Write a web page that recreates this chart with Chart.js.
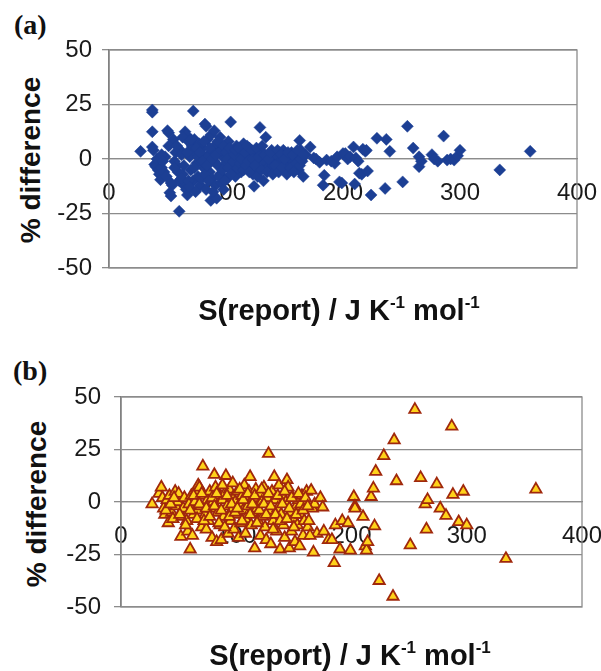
<!DOCTYPE html>
<html>
<head>
    <title>% difference vs S(report)</title>
    <script src="https://cdn.jsdelivr.net/npm/chart.js"></script>
    <style>
        body { margin: 0; background: #fff; }
        #page { position: relative; width: 601px; height: 671px; overflow: hidden; font-family: "Liberation Sans", Arial, sans-serif; }
        canvas { position: absolute; left: 0; }
        .lbl { position: absolute; font-family: "Liberation Serif", "Times New Roman", serif; font-weight: bold; font-size: 28px; color: #111; }
        .ytitle { position: absolute; font-weight: bold; font-size: 28px; color: #111; white-space: nowrap;
                  transform: translate(-50%, -50%) rotate(-90deg); }
        .xtitle { position: absolute; font-weight: bold; font-size: 29px; color: #111; white-space: nowrap;
                  transform: translate(-50%, -50%); }
        .xtitle sup { font-size: 17px; vertical-align: 12px; line-height: 0; }
    </style>
</head>
<body>
<div id="page">
    <div class="lbl" style="left:14px; top:9px;">(a)</div>
    <div class="ytitle" style="left:31px; top:160px;">% difference</div>
    <canvas id="chartA" width="601" height="335" style="top:0;"></canvas>
    <div class="xtitle" style="left:339px; top:310px;">S(report) / J K<sup>-1</sup> mol<sup>-1</sup></div>

    <div class="lbl" style="left:13px; top:355px;">(b)</div>
    <div class="ytitle" style="left:37px; top:504px;">% difference</div>
    <canvas id="chartB" width="601" height="336" style="top:335px;"></canvas>
    <div class="xtitle" style="left:350px; top:655px;">S(report) / J K<sup>-1</sup> mol<sup>-1</sup></div>
</div>

<script>

/* DATA: [S(report), % difference] */
const xTicks = [0, 100, 200, 300, 400];
const yTicks = [-50, -25, 0, 25, 50];

const pointsA = [
    [27,3.5],[37,22.5],[37,21.5],[37,12.5],[37,5.5],[38,4],[39,-2.5],[40,-3.5],[41,0],[42,-5],
    [43,-7],[44,-9.5],[45,-4],[47,-6],[48,1],[50,13],[51,12],[52,-15.5],[53,-17],[54,-12],
    [55,9],[56,-1],[57,3],[58,-3],[59,-6],[60,-24],[60,-10],[61,4],[62,2],[63,-7],
    [64,-12],[65,12.5],[66,11],[66,-14],[67,-16.5],[68,8],[69,1],[70,-5],[71,6],[72,22],
    [72,-10],[73,9],[74,3],[75,-2],[76,-8],[77,7],[78,-12],[79,0],[80,5],[81,-4],
    [82,16],[83,15],[83,-14],[84,9],[85,2],[86,-6],[87,-19],[87,11],[88,-9],[89,4],
    [90,-1],[90,13],[91,-12],[92,7],[92,-18],[93,-3],[94,3],[95,-7],[95,10],[96,-11],
    [97,1],[98,-14],[99,5],[100,-2],[101,-9],[102,8],[103,0],[104,17],[105,-5],[106,3],
    [107,-3],[108,-8],[109,6],[110,1],[111,-1],[112,4],[113,-6],[114,2],[115,7],[116,-2],
    [117,0],[118,-4],[119,3],[120,5],[121,-3],[122,1],[123,-7],[124,-12.5],[125,2],[126,-1],
    [127,4],[128,-5],[129,14.5],[130,0],[131,3],[132,-10],[133,-2],[134,10],[135,1],[136,-4],
    [137,2],[138,-1],[139,4],[140,-3],[141,0],[142,2],[143,-5],[144,1],[145,-2],[146,3],
    [147,-1],[148,0],[149,4],[150,-3],[151,1],[152,-2],[153,2],[154,-4],[155,0],[156,3],
    [157,-1],[158,1],[159,-3],[160,2],[161,0],[162,-5],[163,8.5],[164,4],[165,-1],[166,-8],
    [168,2],[172,5.5],[175,0.5],[177,0],[180,-1.5],[183,-12],[184,-7.5],[186,-0.5],[190,-1],[193,-2],
    [195,1],[197,-10.5],[199,-11],[200,2.5],[202,2.5],[204,0],[206,1],[209,5.5],[210,-11.5],[211,0.5],
    [213,-1],[214,-6.5],[216,-7],[217,4.5],[219,3.5],[220,4],[221,-5.5],[224,-16.5],[229,9.5],[236,-13.5],
    [237,9],[240,3.5],[251,-10.5],[255,15],[260,5],[265,1],[265,-3.5],[267,-1],[276,2],[278,0],
    [281,-1],[286,10.5],[289,-0.5],[292,0],[295,-0.5],[298,1.5],[300,4],[334,-5],[360,3.5],
    [45,2],[46,-1],[49,-8],[51,6],[53,-11],[56,-4],[58,6],[62,-9],[63,10],[64,-3],
    [67,3],[68,-10],[69,-13],[70,9],[73,-4],[74,-15],[75,5],[76,1],[78,3],[79,-9],
    [80,-1],[81,8],[82,-7],[84,-3],[85,-10],[86,5],[88,0],[89,-15],[91,2],[93,8],
    [94,-8],[96,4],[97,-5],[98,6],[99,-10],[100,3],[101,0],[102,-4],[103,5],[104,-7],
    [106,-1],[107,2],[108,4],[110,-4],[111,5],[112,-2],[113,0],[115,-5],[116,3],[117,-3],
    [118,6],[119,-1],[120,-6],[122,4],[123,0],[125,-3],[126,5],[127,-8],[128,1],[130,-5],
    [131,6],[133,2],[135,-6],[136,0],[138,3],[140,-7],[142,-3],[144,4],[145,-6],[147,2],
    [148,-4],[150,0],[152,-7],[153,3],[155,-4],[157,2],[158,-6],[160,-2],[161,4],[163,-3],
    [164,0],[166,2]
];

const pointsB = [
    [27,-1],[33,4],[35,7],[36,2],[37,-3],[38,-6],[40,1],[41,-10],[42,3],[44,-5],
    [45,-8],[47,5],[48,-2],[49,0],[50,4],[52,-16.5],[53,-7],[54,-3],[55,2],[57,-9],
    [58,-14],[59,-1],[60,-22.5],[61,3],[62,-16],[63,-6],[64,0],[65,5],[66,-4],[67,8],
    [68,7],[69,-2],[70,-12],[71,17],[72,3],[73,-6],[74,-13],[75,1],[76,-9],[77,5],
    [78,-3],[79,-17],[80,0],[81,13],[82,7],[83,-19],[84,-5],[85,3],[86,-11],[87,-18],
    [88,1],[89,-7],[90,4],[91,12.5],[92,-2],[93,-15],[94,6],[95,-9],[96,-4],[97,2],
    [98,-13],[99,0],[100,-6],[101,5],[102,-17],[103,-1],[104,-10],[105,3],[106,-4],[107,8],
    [108,-8],[109,1],[110,-2],[111,5],[112,12],[113,-11],[114,-5],[115,2],[116,-22],[117,6],
    [118,-3],[119,-9],[120,4],[121,-16],[122,0],[123,-7],[124,7],[125,-12],[126,-18],[127,2],
    [128,23],[129,-4],[130,-20],[131,5],[132,-9],[133,12],[134,1],[135,-14],[136,-3],[137,8],
    [138,-22.5],[139,-6],[140,3],[141,-11],[142,-17],[143,0],[144,10.5],[145,7],[146,-22],[147,-5],
    [148,-14],[149,2],[150,-8],[151,-19],[152,-2],[153,-11],[154,1],[155,-21],[156,-6],[157,3],
    [158,-16],[159,-9],[160,0],[161,5],[162,-12],[163,-9],[165,5.5],[166,-3],[167,-24],[168,-1],
    [170,-15],[173,2],[175,-2.5],[176,-14],[180,-18],[183,-18],[185,-29],[186,-11],[190,-22.5],[192,-9],
    [197,-10],[199,-23],[202,2.5],[203,-2],[203,-3],[210,-7],[212,-21],[213,-23],[214,-19],[217,2.5],
    [219,6.5],[220,-11.5],[221,14.5],[224,-37.5],[228,22],[236,-45],[237,29.5],[239,10],[251,-20.5],[255,44],
    [260,11.5],[264,-1],[266,1],[265,-13],[274,8.5],[277,-3],[282,-6.5],[287,36],[288,3.5],[293,-9.5],
    [297,5],[300,-11],[334,-27],[360,6],
    [39,-4],[43,-1],[46,2],[51,-6],[56,-11],[60,-4],[63,3],[66,-8],[68,-1],[70,4],
    [72,-9],[74,-3],[77,-7],[79,2],[81,-2],[83,4],[85,-10],[87,-4],[88,8],[90,-12],
    [92,3],[94,-7],[96,-1],[97,9],[99,-5],[101,-3],[103,6],[105,-9],[106,1],[108,-15],
    [110,4],[112,-6],[114,-1],[116,3],[118,-10],[120,-4],[122,6],[124,-1],[126,-6],[128,4],
    [130,-2],[132,-13],[134,-6],[136,3],[138,-9],[140,-1],[142,5],[144,-8],[146,-3],[148,2],
    [150,-12],[152,-6],[154,4],[156,-1],[158,-4],[160,2],[162,-2],[164,-16]
];

Chart.defaults.font.family = '"Liberation Sans", Arial, sans-serif';

/* gray frame round the plot area */
const plotFrame = {
    id: "plotFrame",
    beforeDatasetsDraw(chart) {
        const a = chart.chartArea;
        const ctx = chart.ctx;
        ctx.save();
        ctx.strokeStyle = "#8c8c8c";
        ctx.lineWidth = 1.3;
        ctx.strokeRect(a.left, a.top, a.right - a.left, a.bottom - a.top);
        ctx.restore();
    }
};

function makeChart(canvasId, points, style, box) {
    return new Chart(document.getElementById(canvasId), {
        type: "scatter",
        data: {
            datasets: [{
                data: points.map(p => ({ x: p[0], y: p[1] })),
                ...style
            }]
        },
        options: {
            responsive: false,
            animation: false,
            devicePixelRatio: 1,
            layout: { padding: { left: 0, top: box.top, right: box.right, bottom: box.bottom } },
            plugins: { legend: { display: false }, tooltip: { enabled: false } },
            scales: {
                x: {
                    type: "linear",
                    min: xTicks[0], max: xTicks[xTicks.length - 1],
                    position: { y: 0 },
                    z: 1,
                    afterBuildTicks: s => { s.ticks = xTicks.map(v => ({ value: v })); },
                    // labels may run past the plot edges, as in the original
                    afterFit: s => { s.paddingLeft = 0; s.paddingRight = 0; },
                    grid: { display: true, drawOnChartArea: false, drawTicks: false },
                    border: { display: true, color: "#8c8c8c", width: 1.3 },
                    ticks: { padding: 20, color: "#1a1a1a", font: { size: 24 } }
                },
                y: {
                    type: "linear",
                    min: yTicks[0], max: yTicks[yTicks.length - 1],
                    afterBuildTicks: s => { s.ticks = yTicks.map(v => ({ value: v })); },
                    afterFit: s => { s.width = box.left; },
                    grid: { color: "#8c8c8c", lineWidth: 1.3, tickLength: 7 },
                    border: { display: true, color: "#6e6e6e", width: 1.5 },
                    ticks: { padding: box.tickPad, color: "#1a1a1a", font: { size: 24 } }
                }
            }
        },
        plugins: [plotFrame]
    });
}

makeChart("chartA", pointsA, {
    pointStyle: "rectRot",
    pointRadius: 6,
    backgroundColor: "#1c3f94",
    borderColor: "#1c3f94",
    borderWidth: 0.5
}, { left: 109, top: 50, right: 24, bottom: 67, tickPad: 10 });

makeChart("chartB", pointsB, {
    pointStyle: "triangle",
    pointRadius: 6.5,
    backgroundColor: "#ffd21a",
    borderColor: "#a0280c",
    borderWidth: 1.8
}, { left: 121, top: 62, right: 19, bottom: 64, tickPad: 13 });

</script>
</body>
</html>
